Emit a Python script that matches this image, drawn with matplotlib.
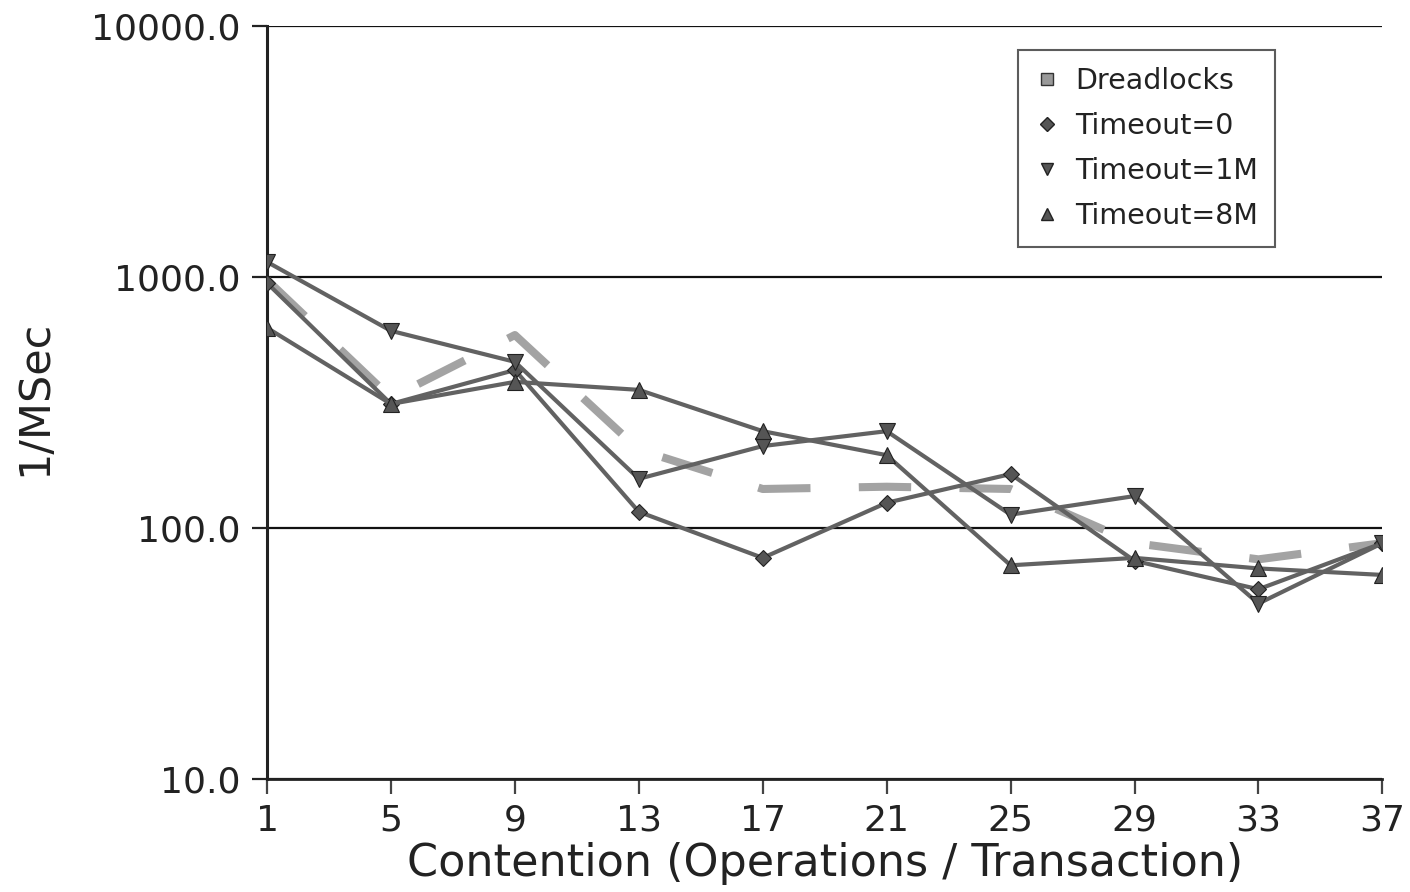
import matplotlib
matplotlib.use("Agg")
import matplotlib.pyplot as plt
from matplotlib.lines import Line2D
from matplotlib.ticker import FuncFormatter, NullLocator

# %% data
contention = [1, 5, 9, 13, 17, 21, 25, 29, 33, 37]
dreadlocks = [973, 330, 587, 205, 143, 146, 143, 87, 75, 87]
timeout_0 = [946, 312, 426, 116, 76, 126, 164, 74, 57, 87]
timeout_1m = [1148, 610, 459, 157, 212, 243, 113, 134, 50, 87]
timeout_8m = [627, 312, 382, 355, 243, 195, 71, 76, 69, 65]

y_ticks = [10, 100, 1000, 10000]

# %% figure
fig = plt.figure(figsize=(14.1, 8.92), dpi=100)
ax = fig.add_axes([0.1894, 0.1267, 0.7910, 0.8442])

line_col = "#626262"
mark_col = "#555555"

ax.plot(contention, dreadlocks, color="#a3a3a3", linewidth=5.8,
        dashes=(6.5, 6), dash_capstyle="butt", zorder=2)
ax.plot(contention, timeout_0, color=line_col, linewidth=3, marker="D",
        markersize=8, markerfacecolor=mark_col, markeredgecolor="#222222",
        markeredgewidth=0.8, zorder=3)
ax.plot(contention, timeout_1m, color=line_col, linewidth=3, marker="v",
        markersize=11, markerfacecolor=mark_col, markeredgecolor="#222222",
        markeredgewidth=0.8, zorder=3)
ax.plot(contention, timeout_8m, color=line_col, linewidth=3, marker="^",
        markersize=11, markerfacecolor=mark_col, markeredgecolor="#222222",
        markeredgewidth=0.8, zorder=3)

# %% axes
ax.set_yscale("log")
ax.set_ylim(10, 10000)
ax.set_xlim(1, 37)
ax.set_yticks(y_ticks)
ax.yaxis.set_minor_locator(NullLocator())
ax.yaxis.set_major_formatter(FuncFormatter(lambda v, p: "{:.1f}".format(v)))
ax.set_xticks(contention)

for s in ["top", "right"]:
    ax.spines[s].set_visible(False)
ax.spines["left"].set_linewidth(2.2)
ax.spines["bottom"].set_linewidth(2)
ax.spines["left"].set_color("#222222")
ax.spines["bottom"].set_color("#222222")

ax.grid(axis="y", color="#111111", linewidth=1.6, zorder=1)
ax.set_axisbelow(True)

ax.tick_params(axis="y", direction="out", length=11, width=1.6, pad=8,
               labelsize=26, colors="#222222")
ax.tick_params(axis="x", direction="out", length=11, width=1.6, pad=7,
               labelsize=26, colors="#444444", labelcolor="#222222")

ax.set_xlabel("Contention (Operations / Transaction)", fontsize=32,
              color="#222222", labelpad=3)
ax.set_ylabel("1/MSec", fontsize=31, color="#222222")
ax.yaxis.set_label_coords(-0.19, 0.506)

# %% legend with marker-only proxies
handles = [
    Line2D([], [], linestyle="none", marker="s", markersize=9,
           markerfacecolor="#999999", markeredgecolor="#333333"),
    Line2D([], [], linestyle="none", marker="D", markersize=7,
           markerfacecolor=mark_col, markeredgecolor="#222222"),
    Line2D([], [], linestyle="none", marker="v", markersize=9,
           markerfacecolor=mark_col, markeredgecolor="#222222"),
    Line2D([], [], linestyle="none", marker="^", markersize=9,
           markerfacecolor=mark_col, markeredgecolor="#222222"),
]
labels = ["Dreadlocks", "Timeout=0", "Timeout=1M", "Timeout=8M"]
leg = ax.legend(handles, labels, loc="upper right",
                bbox_to_anchor=(0.904, 0.968), borderaxespad=0,
                fontsize=20.5, frameon=True, fancybox=False,
                handlelength=0.8, handletextpad=0.6, labelspacing=0.6,
                borderpad=0.6)
leg.get_frame().set_edgecolor("#333333")
leg.get_frame().set_linewidth(1.5)
for t in leg.get_texts():
    t.set_color("#222222")

fig.savefig("out.png", dpi=100, facecolor="white")
